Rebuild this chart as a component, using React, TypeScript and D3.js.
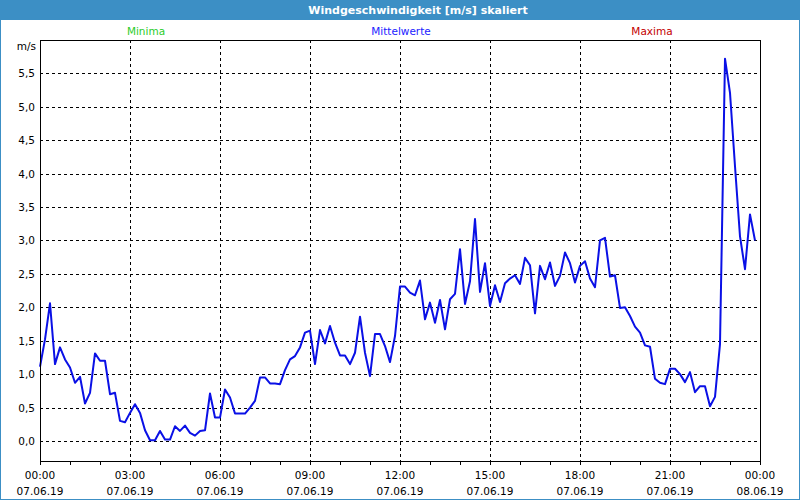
import React, { useEffect, useRef } from 'react';
import * as d3 from 'd3';

// Windgeschwindigkeit, Mittelwerte alle 10 Minuten ab 07.06.19 00:00
const startTime = new Date(2019, 5, 7, 0, 0);
const endTime = new Date(2019, 5, 8, 0, 0);
const stepMinutes = 10;
const meanValues = [
    1.11, 1.52, 2.06, 1.15, 1.4, 1.22, 1.1, 0.87, 0.96, 0.56, 0.72, 1.31,
    1.2, 1.2, 0.7, 0.72, 0.3, 0.28, 0.42, 0.55, 0.42, 0.16, 0.01, 0.01,
    0.15, 0.02, 0.02, 0.22, 0.15, 0.23, 0.12, 0.08, 0.15, 0.16, 0.71, 0.35,
    0.35, 0.77, 0.65, 0.41, 0.41, 0.41, 0.5, 0.6, 0.95, 0.95, 0.86, 0.86,
    0.85, 1.06, 1.22, 1.27, 1.4, 1.62, 1.65, 1.15, 1.66, 1.46, 1.72, 1.47,
    1.28, 1.28, 1.15, 1.32, 1.86, 1.32, 0.97, 1.6, 1.6, 1.42, 1.18, 1.57,
    2.31, 2.31, 2.22, 2.18, 2.4, 1.82, 2.07, 1.77, 2.11, 1.67, 2.12, 2.2,
    2.87, 2.05, 2.39, 3.32, 2.23, 2.66, 2.02, 2.33, 2.08, 2.36, 2.43, 2.48,
    2.35, 2.74, 2.63, 1.91, 2.62, 2.42, 2.67, 2.32, 2.47, 2.82, 2.66, 2.37,
    2.62, 2.69, 2.43, 2.3, 3.0, 3.04, 2.46, 2.48, 1.99, 2.0, 1.87, 1.71,
    1.62, 1.43, 1.41, 0.93, 0.87, 0.85, 1.08, 1.08, 1.0, 0.88, 1.03, 0.73,
    0.82, 0.82, 0.52, 0.66, 1.45, 5.72, 5.21, 4.11, 3.06, 2.57, 3.39, 3.0
];
const yTicks = [0, 0.5, 1, 1.5, 2, 2.5, 3, 3.5, 4, 4.5, 5, 5.5];
const legendLabels = ['Minima', 'Mittelwerte', 'Maxima'];
const legendColors = ['#2ccc2c', '#2222ff', '#c40000'];
const title = 'Windgeschwindigkeit [m/s] skaliert';

const W = 800;
const H = 500;
const margin = { top: 40, right: 40, bottom: 39, left: 40 };
const font = '"DejaVu Sans", Verdana, sans-serif';

const WindChart = () => {
    const svgRef = useRef<SVGSVGElement>(null);

    useEffect(() => {
        const svg = d3.select(svgRef.current);
        svg.selectAll('*').remove();

        const innerW = W - margin.left - margin.right;
        const innerH = H - margin.top - margin.bottom;

        const x = d3.scaleTime().domain([startTime, endTime]).range([margin.left, margin.left + innerW]);
        const y = d3.scaleLinear().domain([-0.3, 6.0]).range([margin.top + innerH, margin.top]);

        // Fenster-Hintergrund und Rahmen
        svg.append('rect').attr('width', W).attr('height', H).attr('fill', '#3c8fc5');
        svg.append('rect').attr('x', 1).attr('y', 20).attr('width', W - 2).attr('height', H - 21).attr('fill', '#ffffff');

        svg.append('text')
            .attr('x', 418).attr('y', 14)
            .attr('text-anchor', 'middle')
            .attr('fill', '#ffffff')
            .attr('font-weight', 'bold')
            .attr('font-size', 11)
            .attr('font-family', font)
            .text(title);

        // Legende
        const legendX = [146, 401, 652];
        legendLabels.forEach((label, i) => {
            svg.append('text')
                .attr('x', legendX[i]).attr('y', 35)
                .attr('text-anchor', 'middle')
                .attr('fill', legendColors[i])
                .attr('font-size', 10.5)
                .attr('font-family', font)
                .text(label);
        });

        // Gitter
        const hourTicks = d3.timeHour.every(1)!.range(startTime, d3.timeHour.offset(endTime, 1));
        const labelTicks = hourTicks.filter(d => d.getHours() % 3 === 0);
        const grid = svg.append('g')
            .attr('stroke', '#000')
            .attr('stroke-width', 1)
            .attr('stroke-dasharray', '3,3')
            .attr('shape-rendering', 'crispEdges');

        grid.selectAll('line.h')
            .data(yTicks)
            .join('line')
            .attr('class', 'h')
            .attr('x1', margin.left).attr('x2', margin.left + innerW)
            .attr('y1', d => Math.round(y(d)) + 0.5).attr('y2', d => Math.round(y(d)) + 0.5);

        grid.selectAll('line.v')
            .data(labelTicks.filter(d => +d !== +startTime && +d !== +endTime))
            .join('line')
            .attr('class', 'v')
            .attr('x1', d => Math.round(x(d)) + 0.5).attr('x2', d => Math.round(x(d)) + 0.5)
            .attr('y1', margin.top).attr('y2', margin.top + innerH);

        // Messlinie
        const line = d3.line<number>()
            .x((d, i) => x(d3.timeMinute.offset(startTime, i * stepMinutes)))
            .y(d => y(d));

        svg.append('path')
            .datum(meanValues)
            .attr('d', line)
            .attr('fill', 'none')
            .attr('stroke', '#0a10e6')
            .attr('stroke-width', 2)
            .attr('stroke-linejoin', 'round');

        // Achsenrahmen
        svg.append('rect')
            .attr('x', margin.left + 0.5).attr('y', margin.top + 0.5)
            .attr('width', innerW).attr('height', innerH)
            .attr('fill', 'none')
            .attr('stroke', '#000')
            .attr('shape-rendering', 'crispEdges');

        // X-Achse: Striche jede Stunde, Beschriftung alle 3 Stunden
        svg.append('g')
            .attr('stroke', '#000')
            .attr('shape-rendering', 'crispEdges')
            .selectAll('line')
            .data(hourTicks)
            .join('line')
            .attr('x1', d => Math.round(x(d)) + 0.5).attr('x2', d => Math.round(x(d)) + 0.5)
            .attr('y1', margin.top + innerH).attr('y2', margin.top + innerH + 4);

        const timeFmt = d3.timeFormat('%H:%M');
        const dateFmt = d3.timeFormat('%d.%m.%y');
        const xLabels = svg.append('g')
            .attr('font-size', 10.5)
            .attr('font-family', font)
            .attr('fill', '#000')
            .attr('text-anchor', 'middle');
        labelTicks.forEach(d => {
            xLabels.append('text').attr('x', x(d)).attr('y', 479).text(timeFmt(d));
            xLabels.append('text').attr('x', x(d)).attr('y', 495).text(dateFmt(d));
        });

        // Y-Achse
        const commaFmt = (v: number) => v.toFixed(1).replace('.', ',');
        svg.append('g')
            .attr('font-size', 10.5)
            .attr('font-family', font)
            .attr('fill', '#000')
            .attr('text-anchor', 'end')
            .selectAll('text')
            .data(yTicks)
            .join('text')
            .attr('x', 35)
            .attr('y', d => y(d) + 4)
            .text(d => commaFmt(d));

        svg.append('text')
            .attr('x', 36).attr('y', 50)
            .attr('text-anchor', 'end')
            .attr('font-size', 10.5)
            .attr('font-family', font)
            .text('m/s');
    }, []);

    return <svg ref={svgRef} width={W} height={H} style={{ position: 'absolute', left: 0, top: 0 }} />;
};

export default function App() {
    return <WindChart />;
}
